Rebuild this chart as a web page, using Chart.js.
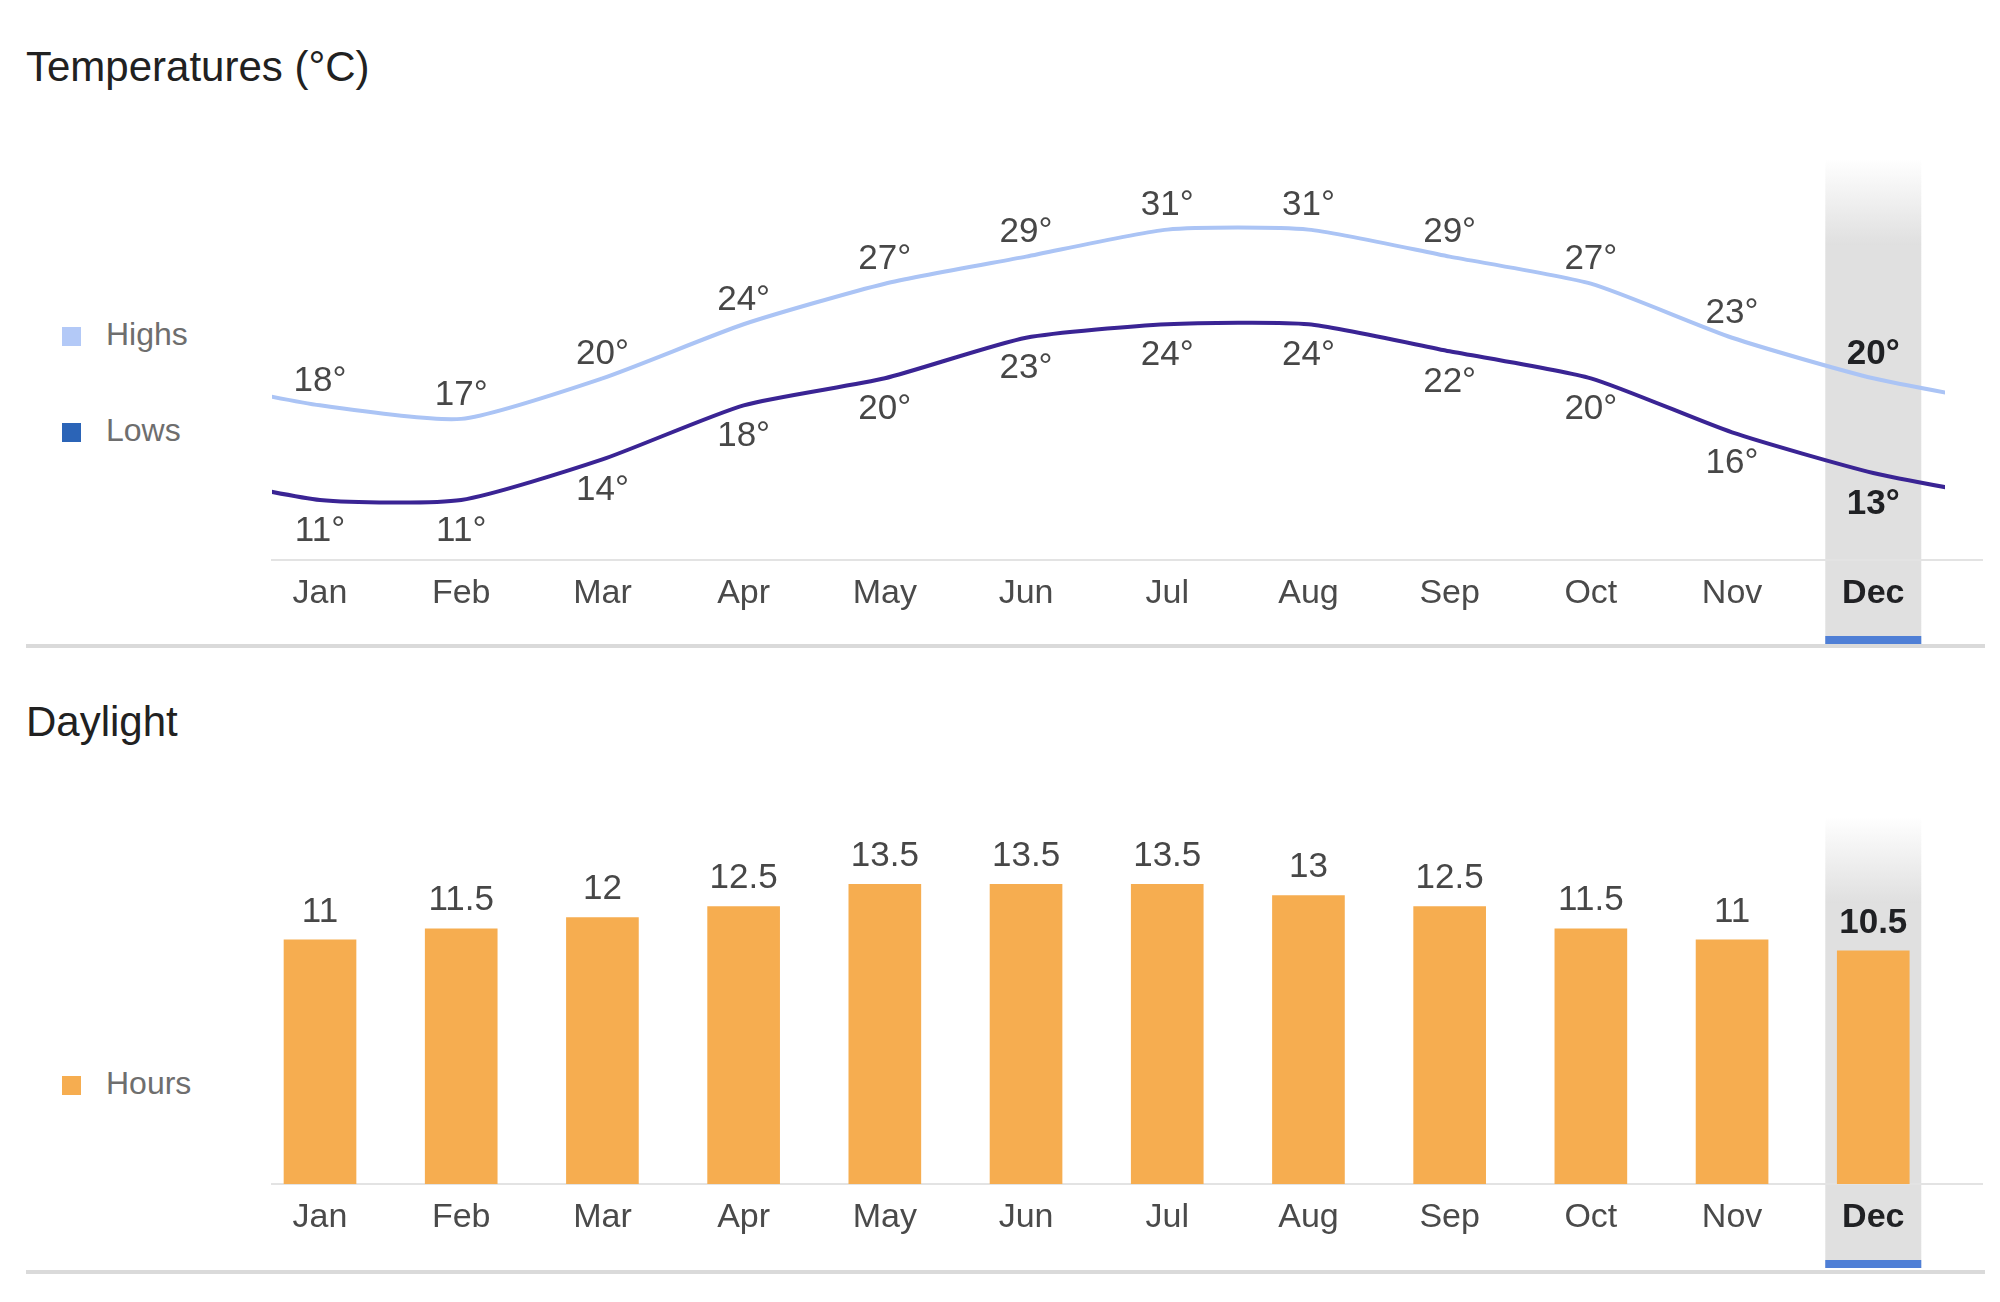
<!DOCTYPE html>
<html>
<head>
<meta charset="utf-8">
<script src="https://cdn.jsdelivr.net/npm/chart.js@4"></script>
<style>
  body { margin: 0; background: #fff; font-family: "Liberation Sans", Arial, sans-serif; }
  #page { position: relative; width: 2000px; height: 1302px; overflow: hidden; }
  .title { position: absolute; left: 26px; font-size: 42px; line-height: 42px; color: #212121; }
  .legend { position: absolute; left: 62px; font-size: 32px; color: #6e6e6e; line-height: 32px; }
  .legend span.box { display: inline-block; width: 19px; height: 19px; margin-right: 25px; vertical-align: -1px; }
  .sep { position: absolute; left: 26px; width: 1959px; height: 4px; background: #dadada; }
  canvas { position: absolute; left: 0; }
</style>
</head>
<body>
<div id="page">
  <div class="title" style="top:46px">Temperatures (°C)</div>
  <div class="legend" id="legHighs" style="top:318px"></div>
  <div class="legend" id="legLows" style="top:414px"></div>
  <canvas id="tempChart" width="2000" height="650" style="top:0"></canvas>
  <div class="sep" style="top:644px"></div>

  <div class="title" style="top:701px">Daylight</div>
  <div class="legend" id="legHours" style="top:1067px"></div>
  <canvas id="dayChart" width="2000" height="652" style="top:650px"></canvas>
  <div class="sep" style="top:1270px"></div>
</div>

<script>
const months = ['Jan', 'Feb', 'Mar', 'Apr', 'May', 'Jun', 'Jul', 'Aug', 'Sep', 'Oct', 'Nov', 'Dec'];
const highs = [18, 17, 20, 24, 27, 29, 31, 31, 29, 27, 23, 20];
const lows = [11, 11, 14, 18, 20, 23, 24, 24, 22, 20, 16, 13];
const hours = [11, 11.5, 12, 12.5, 13.5, 13.5, 13.5, 13, 12.5, 11.5, 11, 10.5];
const current = 11; // highlighted month

const FONT = '"Liberation Sans", Arial, sans-serif';
const highsColor = '#abc4f5';
const lowsColor = '#3a2494';
const lowsLegend = '#2b64b7';
const hoursColor = '#f6ad50';

function legend(id, color, text) {
    document.getElementById(id).innerHTML = '<span class="box" style="background:' + color + '"></span>' + text;
}
legend('legHighs', '#b3c9f7', 'Highs');
legend('legLows', lowsLegend, 'Lows');
legend('legHours', hoursColor, 'Hours');

// lines continue toward the neighbouring month (the year wraps round)
function wrap(values) {
    const pts = values.map((v, i) => ({ x: i, y: v }));
    return [{ x: -1, y: values[values.length - 1] }, ...pts, { x: values.length, y: values[0] }];
}

const highlightBand = {
    id: 'highlightBand',
    beforeDraw(chart, args, opts) {
        const { ctx, chartArea } = chart;
        const x = chart.scales.x.getPixelForValue(current);
        const w = 96;
        const top = chartArea.top;
        const bottom = opts.bottom;
        const g = ctx.createLinearGradient(0, top, 0, top + 85);
        g.addColorStop(0, 'rgba(224,224,224,0)');
        g.addColorStop(1, 'rgba(224,224,224,1)');
        ctx.save();
        ctx.fillStyle = g;
        ctx.fillRect(x - w / 2, top, w, bottom - top);
        ctx.fillStyle = '#4f7fd6';
        ctx.fillRect(x - w / 2, bottom - 8, w, 8);
        ctx.restore();
    }
};

const valueLabels = {
    id: 'valueLabels',
    afterDatasetsDraw(chart) {
        const ctx = chart.ctx;
        chart.data.datasets.forEach((ds, di) => {
            const meta = chart.getDatasetMeta(di);
            meta.data.forEach((el, i) => {
                const raw = ds.data[i];
                if (raw.x < 0 || raw.x >= months.length) return;
                const hl = raw.x === current;
                ctx.save();
                ctx.font = (hl ? 'bold ' : '') + '35px ' + FONT;
                ctx.fillStyle = hl ? '#202124' : '#474747';
                ctx.textAlign = 'center';
                ctx.textBaseline = 'middle';
                ctx.fillText(raw.y + ds.suffix, el.x, el.y + ds.labelOffset);
                ctx.restore();
            });
        });
    }
};

function xScale() {
    return {
        type: 'linear',
        min: -0.34,
        max: 11.77,
        offset: false,
        grid: { display: false, drawTicks: false, offset: false },
        border: { display: true, color: '#e3e3e3', width: 2 },
        afterBuildTicks: axis => { axis.ticks = months.map((m, i) => ({ value: i })); },
        afterFit: axis => { axis.height = 60; },
        ticks: {
            autoSkip: false,
            maxRotation: 0,
            padding: 13,
            callback: v => months[v],
            color: c => c.tick && c.tick.value === current ? '#202124' : '#4a4a4a',
            font: c => ({ family: FONT, size: 34, weight: c.tick && c.tick.value === current ? 'bold' : 'normal' })
        }
    };
}

new Chart(document.getElementById('tempChart'), {
    type: 'line',
    data: {
        datasets: [
            {
                label: 'Highs',
                data: wrap(highs),
                borderColor: highsColor,
                borderWidth: 4,
                pointRadius: 0,
                tension: 0.2,
                clip: { left: 0, top: false, right: -37, bottom: false },
                suffix: '°',
                labelOffset: -24
            },
            {
                label: 'Lows',
                data: wrap(lows),
                borderColor: lowsColor,
                borderWidth: 4,
                pointRadius: 0,
                tension: 0.2,
                clip: { left: 0, top: false, right: -37, bottom: false },
                suffix: '°',
                labelOffset: 31
            }
        ]
    },
    options: {
        responsive: false,
        animation: false,
        layout: { padding: { left: 272, right: 18, top: 160, bottom: 30 } },
        scales: {
            x: xScale(),
            y: { display: false, min: 6.56, max: 36.15 }
        },
        plugins: {
            legend: { display: false },
            tooltip: { enabled: false },
            highlightBand: { bottom: 644 }
        }
    },
    plugins: [highlightBand, valueLabels]
});

new Chart(document.getElementById('dayChart'), {
    type: 'bar',
    data: {
        datasets: [
            {
                label: 'Hours',
                data: hours.map((v, i) => ({ x: i, y: v })),
                backgroundColor: hoursColor,
                barThickness: 72,
                suffix: '',
                labelOffset: -28
            }
        ]
    },
    options: {
        responsive: false,
        animation: false,
        layout: { padding: { left: 272, right: 18, top: 168, bottom: 58 } },
        scales: {
            x: xScale(),
            y: { display: false, min: 0, max: 16.49 }
        },
        plugins: {
            legend: { display: false },
            tooltip: { enabled: false },
            highlightBand: { bottom: 618 }
        }
    },
    plugins: [highlightBand, valueLabels]
});
</script>
</body>
</html>
